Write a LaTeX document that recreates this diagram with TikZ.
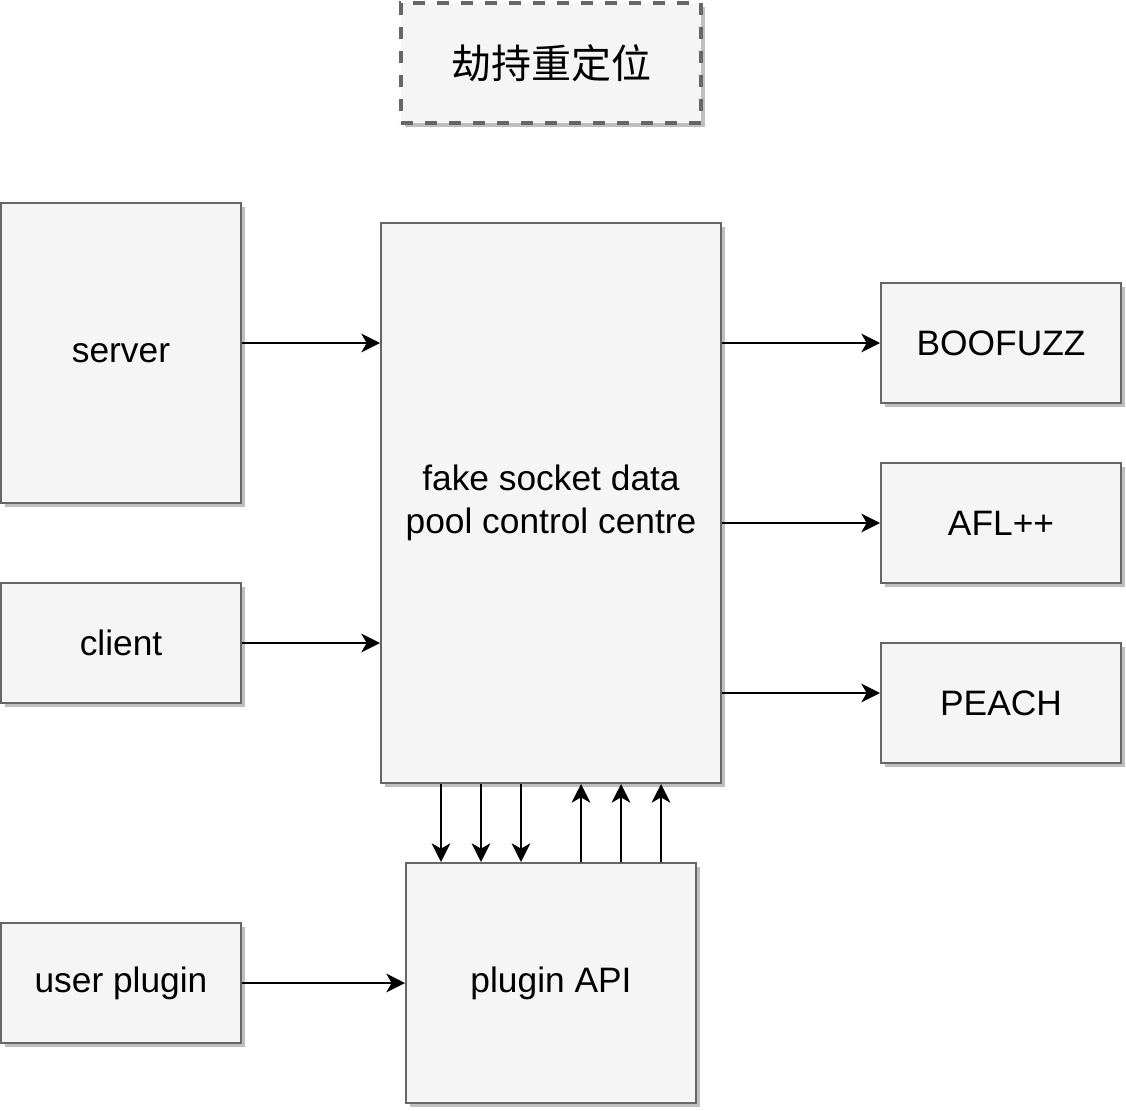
\documentclass[tikz,border=0pt]{standalone}
\usepackage{fontspec}
\setmainfont{Liberation Sans}
\newfontfamily\cjk{Noto Sans CJK SC}
\usetikzlibrary{arrows.meta,shadows}
\definecolor{boxfill}{HTML}{F5F5F5}
\definecolor{boxline}{HTML}{666666}
\definecolor{shadowc}{HTML}{BFBFBF}
\begin{document}
\begin{tikzpicture}[x=0.75pt,y=-0.75pt,
  box/.style={draw=boxline,fill=boxfill,line width=1.5pt,inner sep=0pt,align=center,
    font=\fontsize{26.5}{32}\selectfont,
    drop shadow={shadow xshift=3pt,shadow yshift=-3pt,fill=shadowc,opacity=1}},
  arr/.style={line width=1.6pt,-{Stealth[length=14pt,width=14pt,inset=4pt]}}]
\useasboundingbox (0,0) rectangle (1126,1110);
% title
\node[box,line width=2.4pt,dash pattern=on 9pt off 9pt,minimum width=225pt,minimum height=90pt,
  font=\cjk\fontsize{30}{36}\selectfont] (title) at (551,63) {劫持重定位};
% left
\node[box,minimum width=180pt,minimum height=225pt] (server) at (121,353) {server};
\node[box,minimum width=180pt,minimum height=90pt] (client) at (121,643) {client};
\node[box,minimum width=180pt,minimum height=90pt] (user) at (121,983) {user plugin};
% centre
\node[box,minimum width=255pt,minimum height=420pt] (core) at (551,503) {fake socket data\\pool control centre};
\node[box,minimum width=217.5pt,minimum height=180pt] (api) at (551,983) {plugin API};
% right
\node[box,minimum width=180pt,minimum height=90pt] (boo) at (1001,343) {BOOFUZZ};
\node[box,minimum width=180pt,minimum height=90pt] (afl) at (1001,523) {AFL++};
\node[box,minimum width=180pt,minimum height=90pt] (peach) at (1001,703) {PEACH};
% arrows
\draw[arr] (server.east |- 0,343) -- (core.west |- 0,343);
\draw[arr] (client.east) -- (core.west |- client.east);
\draw[arr] (core.east |- boo.west) -- (boo.west);
\draw[arr] (core.east |- afl.west) -- (afl.west);
\draw[arr] (core.east |- 0,693) -- (peach.west |- 0,693);
\draw[arr] (user.east) -- (api.west |- user.east);
\foreach \x in {441,481,521}{\draw[arr] (core.south -| \x,0) -- (api.north -| \x,0);}
\foreach \x in {581,621,661}{\draw[arr] (api.north -| \x,0) -- (core.south -| \x,0);}
\end{tikzpicture}
\end{document}
